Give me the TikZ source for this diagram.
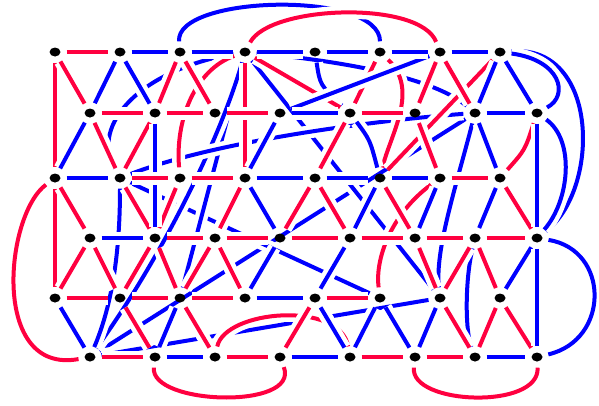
\documentclass[tikz,border=0pt]{standalone}
\usetikzlibrary{shapes.geometric}
\definecolor{kred}{RGB}{255,0,64}
\definecolor{kblue}{RGB}{0,0,255}
\pgfdeclarelayer{edges}
\pgfsetlayers{edges,main}
\begin{document}
\begin{tikzpicture}[x=1pt,y=-1pt,
  dot/.style={ellipse,fill=black,minimum width=11pt,minimum height=9pt,inner sep=0pt},
  halo/.style={preaction={draw=white,line width=13pt}},
  R/.style={draw=kred,line width=4pt,shorten <=6pt,shorten >=6pt,halo},
  B/.style={draw=kblue,line width=4pt,shorten <=6pt,shorten >=6pt,halo}]
\useasboundingbox (0,0) rectangle (599,405);
\foreach \c/\x in {1/55,2/120,3/180,4/245,5/315,6/380,7/440,8/500}{
  \node[dot] (A\c) at (\x,52) {};
  \node[dot] (C\c) at (\x,178) {};
  \node[dot] (E\c) at (\x,298) {};}
\foreach \c/\x in {1/90,2/155,3/215,4/280,5/350,6/415,7/475,8/537}{
  \node[dot] (B\c) at (\x,113) {};
  \node[dot] (D\c) at (\x,238) {};
  \node[dot] (F\c) at (\x,357) {};}
\begin{pgfonlayer}{edges}
% long and curved edges first
\draw[B] (A3) .. controls (175,-5) and (380,-10) .. (A6);
\draw[R] (A4) .. controls (270,5) and (420,0) .. (A7);
\draw[B] (A8) .. controls (600,45) and (600,190) .. (D8);
\draw[B] (D8) .. controls (610,250) and (610,340) .. (F8);
\draw[R] (C1) .. controls (5,215) and (-10,375) .. (F1);
\draw[R] (F2) .. controls (150,405) and (300,410) .. (F4);
\draw[R] (F6) .. controls (410,405) and (540,410) .. (F8);
\foreach \a/\b in {B7/F1,F1/E7,C2/E6,A4/E7,A4/E3}
  \draw[B] (\a) -- (\b);
\draw[B] (A4) .. controls (220,140) and (160,260) .. (F1);
\draw[B] (C2) .. controls (220,140) and (380,120) .. (B7);
\draw[B] (A4) .. controls (330,60) and (430,75) .. (B7);
\draw[B] (A4) .. controls (140,70) and (90,125) .. (C2);
\draw[R] (A4) .. controls (195,70) and (175,120) .. (C3);
\draw[R] (A6) .. controls (420,90) and (390,135) .. (C6);
\draw[B] (A8) .. controls (560,60) and (570,95) .. (B8);
\draw[B] (B7) .. controls (455,190) and (435,250) .. (E7);
\draw[R] (B8) .. controls (525,150) .. (C8);
\draw[B] (B8) .. controls (575,140) and (570,200) .. (D8);
\draw[B] (A5) .. controls (320,85) .. (B5);
\draw[B] (B5) .. controls (370,140) .. (C6);
\draw[B] (C2) .. controls (120,260) and (110,310) .. (F1);
\draw[R] (C7) .. controls (390,215) and (375,260) .. (E6);
\draw[B] (D7) .. controls (465,280) and (465,330) .. (F7);
\draw[R] (F3) .. controls (225,310) and (340,300) .. (F5);
\foreach \a/\b in {A8/C6,A4/C4,A4/B5,A6/B5,A7/B6,A7/B7,A1/C1,A1/B1,A3/B2,A3/B3,
  B1/C2,B2/C2,B5/C5,B6/C7,C1/E1,C1/D1,C2/D2,C3/D2,C4/D3,C5/D4,C5/D5,C6/D6,C8/D8,
  D1/E1,D1/E2,D2/E2,D2/E3,D3/E3,D3/E4,D6/E7,D7/E8,D7/E7,
  E2/F2,E3/F3,E7/F7,E8/F7,E8/F8,F4/E5}
  \draw[R] (\a) -- (\b);
\foreach \a/\b in {A2/B1,A2/B2,A7/B4,A8/B7,A8/B8,B1/C1,B4/C4,B7/C8,B8/D8,B2/D2,
  C4/D4,C6/D5,C7/D6,C8/D7,D4/E4,D5/E5,D8/E8,D8/F8,
  E1/F1,E3/F2,E5/F5,E6/F5,E6/F6,E7/F6}
  \draw[B] (\a) -- (\b);
% row edges
\foreach \a/\b in {A1/A2,B1/B2,B2/B3,B3/B4,B5/B6,C2/C3,C3/C4,C7/C8,
  D2/D3,D3/D4,D4/D5,D5/D6,D6/D7,D7/D8,E1/E2,E2/E3,E3/E4,E5/E6,
  F1/F2,F3/F4,F5/F6,F6/F7}
  \draw[R] (\a) -- (\b);
\foreach \a/\b in {A2/A3,A3/A4,A4/A5,A5/A6,A6/A7,A7/A8,B4/B5,B7/B8,
  C1/C2,C4/C5,C5/C6,C6/C7,D1/D2,E4/E5,F2/F3,F4/F5,F7/F8}
  \draw[B] (\a) -- (\b);
\end{pgfonlayer}
\end{tikzpicture}
\end{document}
